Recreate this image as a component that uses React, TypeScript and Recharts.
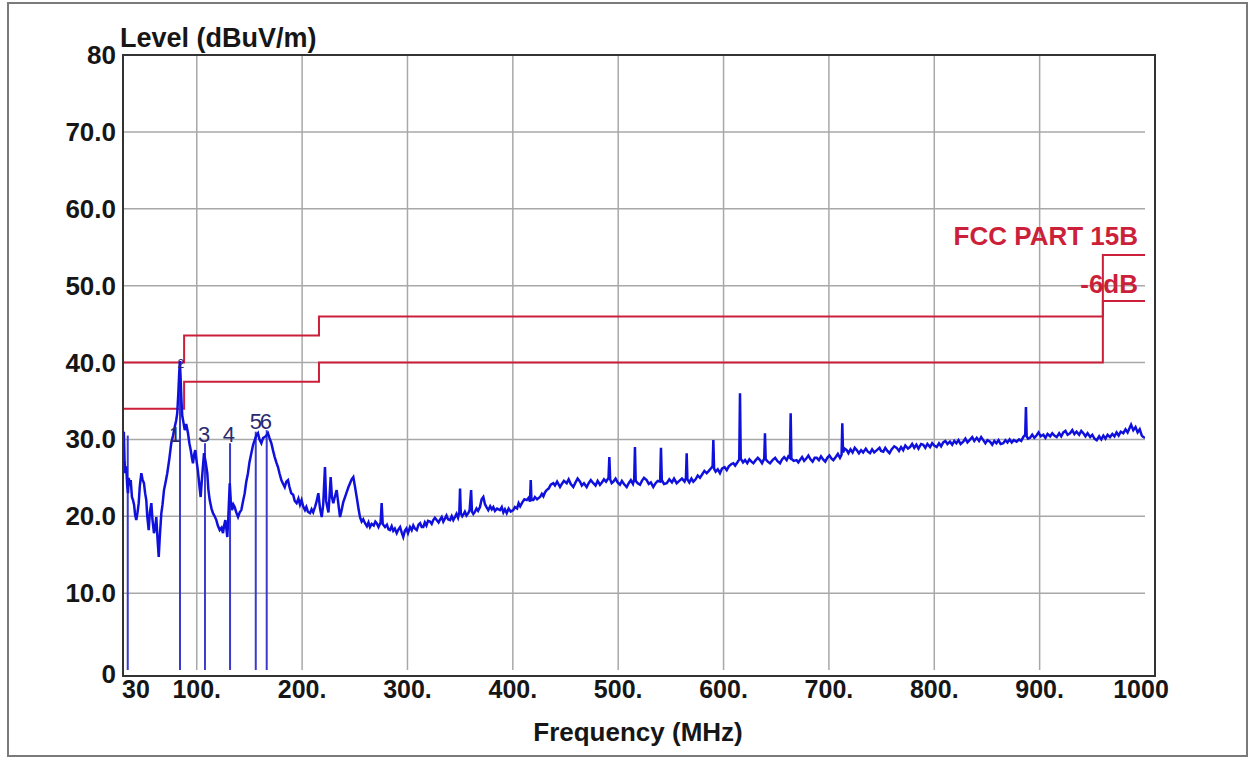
import React from "react";
import {
  ComposedChart, Line, XAxis, YAxis, CartesianGrid, ReferenceLine, Scatter,
} from "recharts";

// axis ticks
const freqTicks = [30, 100, 200, 300, 400, 500, 600, 700, 800, 900, 1000];
const levelTicks = [0, 10, 20, 30, 40, 50, 60, 70, 80];

// FCC Part 15B class B limit and the -6 dB margin line (stepped)
const fccLimit = [
  { f: 30, v: 40 }, { f: 88, v: 43.5 }, { f: 216, v: 46 }, { f: 960, v: 54 }, { f: 1000, v: 54 },
];
const fccMargin = [
  { f: 30, v: 34 }, { f: 88, v: 37.5 }, { f: 216, v: 40 }, { f: 960, v: 48 }, { f: 1000, v: 48 },
];

// marker drop lines (freq MHz, level dBuV/m)
const markers = [
  { f: 34.5, v: 30.5 }, { f: 84.1, v: 40 }, { f: 107.8, v: 29.5 },
  { f: 131.6, v: 29.5 }, { f: 156, v: 31 }, { f: 166.4, v: 31.2 },
];
const markerLabels = [
  { f: 79.4, v: 30.7, text: "1", size: 22 },
  { f: 85, v: 39.9, text: "2", size: 12 },
  { f: 106.9, v: 30.7, text: "3", size: 22 },
  { f: 130.6, v: 30.7, text: "4", size: 22 },
  { f: 156.2, v: 32.4, text: "5", size: 22 },
  { f: 165.7, v: 32.4, text: "6", size: 22 },
];

const traceLow: [number, number][] = [
  [30, 30.5], [30.8, 31], [31.5, 27], [32.2, 25.6], [33, 26.5], [34, 24], [34.7, 23], [35.5, 25],
  [36.5, 24], [37.3, 24.7], [38.5, 22.5], [39.5, 22.1], [40.5, 21.5], [41.5, 20.2], [42.6, 19.5],
  [43.8, 20.5], [44.9, 21.7], [46, 24], [47.4, 25.6], [48.5, 24.8], [49.9, 24.3], [51, 23],
  [52.1, 22.1], [53, 20], [54.4, 18.2], [55.5, 20.5], [56.9, 21.7], [58, 19.5], [59.4, 17.8],
  [60.5, 18.5], [61.6, 19.9], [62.8, 17], [63.9, 14.7], [65, 17.5], [66.4, 20.4], [67.5, 21.5],
  [68.9, 23.4], [70.5, 24.5], [72, 25.6], [74, 27.5], [75.8, 29.5], [77.5, 30.5], [79.1, 31.6],
  [80.5, 32.5], [81.5, 33.4], [82.5, 36], [83.3, 38.5], [84, 40.2], [84.8, 37.5], [85.5, 35],
  [86.3, 33], [87, 32.5], [88.6, 31.2], [90, 32], [91.7, 30.8], [93, 29.5], [94.3, 28.6],
  [95.5, 27.5], [96.4, 26.9], [97.5, 28], [98.6, 28.6], [100, 27], [101, 26], [102.5, 24],
  [103.7, 22.5], [105, 25], [106.9, 28.2], [108.5, 27], [110, 25.6], [111, 23.5], [112.3, 22.1],
  [114, 21], [115.4, 20.4], [117, 20], [118.6, 19.5], [120, 18.8], [121.8, 18.2], [123.5, 18.5],
  [124.9, 17.8], [126, 18.8], [127.1, 19.5], [128, 18.5], [129, 17.3], [130, 20], [131.3, 24.3],
  [132.3, 22], [133.5, 20.8], [134.8, 21.5], [136, 21.2], [137.5, 20.5], [139.2, 19.9],
  [140.8, 20.5], [142.3, 20.8], [144, 22], [145.5, 23], [147, 24.5], [148.6, 25.6], [150, 27],
  [151.8, 28.2], [153.5, 29.3], [155, 29.9], [156.5, 30.5], [158.1, 30.8], [159.5, 30],
  [161.3, 29.5], [163, 30.2], [164.5, 30.3], [166, 30.5], [167.6, 30.8], [169, 30.2],
  [170.8, 29.5], [172.5, 28.5], [174, 27.7], [175.5, 27], [177.1, 26.4], [178.7, 25.5],
  [180.3, 24.7], [182, 24.2], [183.5, 23.8], [185, 24.5], [186.6, 24.7], [188, 23.8],
  [189.7, 23], [191.5, 22.8], [193, 22], [194.8, 21.7], [196.5, 22.3], [198, 21.5], [199.5, 22.1],
  [201, 21.3], [202.7, 20.8], [204, 21.2], [205.5, 20.6], [207.5, 20.4], [209, 20.9],
  [210.5, 20.5], [212.2, 21.2], [213.5, 21.8], [215.4, 23],
];

const traceMidLow: [number, number][] = [
  [217, 21], [218.6, 19.9], [220, 21.5], [221.7, 26.4], [222.8, 22], [223.9, 21.2], [225, 20.5],
  [226, 22.5], [227.1, 25.1], [228.3, 22.5], [229.6, 21.7], [231, 22.5], [232.8, 23.4],
  [234.5, 21.5], [236, 19.9], [237.5, 20.8], [239, 21.8], [240.7, 22.5], [242.5, 23.2], [244, 23.8],
  [245.5, 24.3], [247, 24.8], [248.6, 25.1], [250, 24], [251.8, 22.5], [253.5, 21], [254.9, 19.9],
  [256.5, 19.3], [258, 19.6], [259.7, 19.1], [261.5, 18.7], [263, 19.2], [264.4, 18.6], [266, 19],
  [268, 18.8], [269.5, 19.3], [270.8, 19.1], [272.5, 18.6], [274.5, 19.2], [275.5, 21.7],
  [276.5, 19], [278.7, 18.6], [280.5, 18.9], [282, 18.3], [283.4, 18.2], [285, 18.7], [286.5, 18.1],
  [288, 18.4], [289.8, 17.8], [291.5, 18.3], [293, 18.6], [294.5, 17.9], [296, 17.3], [297.5, 18.1],
  [299, 18.4], [300.5, 17.8], [302.4, 18.6], [304, 18.2], [305.5, 18.8], [307, 18.4], [308.8, 18.2],
  [310.5, 18.9], [312, 19.1], [313.5, 18.6], [315, 18.6], [316.5, 19.2], [318, 18.8], [319.5, 19.4],
  [321.4, 19.3], [323, 19], [324.5, 19.5], [326, 19.8], [327.7, 19.5], [329.5, 19.2], [331, 19.6],
  [332.5, 19.9], [334, 19.3], [335.5, 19.7], [337, 20.1], [338.5, 19.6], [340.4, 19.5], [342, 20],
  [343.5, 19.5], [345.1, 19.9], [346.5, 20.3], [348, 19.8], [349.2, 20.5], [349.9, 23.6],
  [350.6, 20.4], [352, 20], [353, 20.2], [354.5, 20.6], [356, 20.1], [357.7, 20.4], [359, 20.8],
  [360.4, 23.4], [361.2, 20.6], [362.5, 20.3], [364.1, 20.6], [365.5, 21], [367, 20.7],
  [368.8, 21.2], [370.4, 22.2], [372, 22.5], [373.5, 21.6], [375, 21.2], [376.7, 20.8],
  [378.5, 21.3], [380, 20.9], [381.5, 21.2], [383, 20.7], [385, 21], [387.8, 20.8], [389.5, 21.2],
  [391, 20.5], [392.5, 20.9], [394.2, 20.4], [396, 21], [398, 20.6], [400.4, 20.8], [402, 21.2],
  [404, 21], [405.5, 21.7], [407, 21.3], [409, 21.8], [411, 22.2], [413.2, 22.1], [415, 22.4],
  [416.3, 21.9], [417, 24.7], [417.7, 22.1], [419.4, 22.1],
];

const traceMidHigh: [number, number][] = [
  [421, 22.5], [423, 22.2], [425.8, 22.5], [427.5, 22.9], [429, 22.6], [430.5, 23.1], [432.1, 23.4],
  [434, 23.6], [436, 24.1], [438.4, 24.3], [440, 24], [442, 24.5], [444.8, 23.8], [446.5, 24.2],
  [448.5, 24.6], [451.1, 24.3], [453, 24.8], [455, 24.2], [457.4, 23.8], [459.5, 24.4],
  [461.5, 24.9], [463.8, 24.5], [465.5, 24], [467.5, 24.3], [470.1, 23.8], [472, 24.3],
  [474, 24.7], [476.4, 24.3], [478.5, 24], [480.5, 24.6], [482.7, 24.1], [484.5, 24.4],
  [486.5, 24.8], [488.5, 24.5], [490.8, 25], [491.6, 27.7], [492.4, 24.8], [493.8, 24.3],
  [495.4, 24.5], [497.5, 24.9], [499.5, 24.4], [501.7, 24.1], [503.5, 24.6], [505.5, 24.2],
  [508.1, 23.8], [510, 24.3], [512, 24.7], [514, 24.2], [515.2, 24.8], [515.9, 29], [516.6, 24.6],
  [518.5, 24.3], [520.7, 24.1], [522.5, 24.6], [524.5, 25], [527, 24.7], [529, 24.2], [531, 24.4],
  [533.3, 23.8], [535.5, 24.3], [537.5, 24.6], [539.8, 24.5], [540.6, 28.9], [541.4, 24.7],
  [543.5, 24.2], [546.1, 24.3], [548.5, 24.8], [551, 24.4], [553, 24.9], [555.5, 24.3],
  [558, 24.6], [560.5, 24.9], [563, 24.5], [564.3, 25], [565, 28.2], [565.7, 24.8], [567.5, 24.4],
  [569.5, 24.9], [571.3, 24.5], [573.5, 24.8], [575.5, 25.3], [577.6, 25], [579.5, 25.4],
  [581.8, 25.9], [584, 25.6], [586, 25.9], [588.5, 26.3], [589.6, 26.5], [590.3, 29.9], [591, 26.2],
  [592.5, 25.8], [594.5, 26.1], [596.6, 25.6], [598.5, 26.2], [601, 26.4], [603, 26], [605, 26.5],
  [607.5, 26.8], [609.3, 26.9], [611, 26.6], [613, 27], [614.9, 27.4], [615.6, 36], [616.3, 27.5],
  [618.5, 27], [620.4, 27.3], [622.5, 26.9], [624.5, 27.4], [626.5, 27.1], [628.3, 26.9],
  [630.5, 27.3], [632.5, 27.6], [634.6, 27.3], [636.5, 26.9], [638.6, 27.5], [639.3, 30.8],
  [640, 27.4], [642, 27.1], [644.1, 26.9], [646.5, 27.3], [649, 27.6], [651, 27.2], [653.6, 26.9],
  [655.5, 27.4], [657.5, 27.7], [659.9, 27.3], [661.5, 27.8], [663, 27.6], [663.7, 33.4],
  [664.4, 27.5], [666.5, 27.2], [669.3, 27.3], [671, 27], [672.4, 27.3], [674.5, 27.7],
  [676.5, 27.2], [678.5, 27.5],
];

const traceHigh: [number, number][] = [
  [680.5, 27.9], [682.5, 27.4], [684.5, 27.1], [686.5, 27.6], [688.4, 27.6], [690.5, 27.3],
  [692.5, 27.8], [694.5, 27.4], [696.5, 27.1], [698.5, 27.6], [700.5, 27.9], [702.5, 27.5],
  [704.2, 27.3], [706.5, 27.7], [708.5, 28.1], [710.5, 27.6], [712, 28], [712.7, 32.1],
  [713.4, 28.3], [715, 28.8], [716.9, 28.6], [718.5, 28.2], [720.5, 28.7], [722.5, 28.3],
  [724.5, 28.9], [726.4, 28.6], [728.5, 28.2], [730.5, 28.6], [732.5, 28.3], [735, 28.8],
  [737, 28.4], [739, 28.2], [741, 28.7], [743, 28.3], [745.5, 28.6], [748, 28.9], [749.5, 28.5],
  [751.6, 28.4], [753.5, 28.9], [755.5, 28.5], [757.5, 28.2], [759.5, 28.7], [762, 29.1],
  [764.3, 28.9], [766.5, 28.5], [768.5, 29], [770.5, 28.6], [772.5, 29.2], [775, 28.8], [777, 29],
  [779, 29.4], [781, 28.9], [783, 29.3], [785, 28.8], [787.5, 29.4], [789.6, 29.3], [791.5, 28.9],
  [793.5, 29.4], [796, 29], [798, 29.5], [800, 29.2], [802.3, 29], [804.5, 29.5], [806.5, 29.1],
  [808.5, 29.6], [810.5, 29.8], [812.5, 29.4], [814.9, 29.7], [817, 29.3], [819, 29.8],
  [821, 29.5], [823, 29.9], [825, 29.4], [827.5, 29.7], [829.5, 30.1], [831.5, 29.6],
  [833.5, 29.9], [836, 30.3], [838, 29.8], [840.3, 30.2], [842.5, 29.8], [844.5, 30.3],
  [846.5, 29.9], [848.5, 29.5], [850.5, 29.9], [852.9, 29.7], [855, 29.3], [857, 29.8],
  [859, 29.5], [861, 29.9], [863, 29.4], [865.5, 29.5], [867.5, 29.9], [869.5, 29.6], [871.5, 30],
  [873.5, 29.6], [875.5, 29.9], [878.2, 29.7], [880.5, 30], [882.5, 29.8], [884.5, 30.3],
  [886.3, 30.6], [887, 34.2], [887.7, 30.4], [889, 30.1], [890.9, 30.2], [893, 30.6], [895, 30.2],
  [897, 30.5], [899, 30.9], [901, 30.4], [903.5, 30.6], [905.5, 30.2], [907.5, 30.7], [910, 30.4],
  [912, 30.8], [914, 30.5], [916.2, 30.3], [918.5, 30.8], [920.5, 30.4], [922.5, 30.9],
  [924.5, 31.1], [926.5, 30.6], [928.8, 30.8], [931, 31.2], [933, 30.7], [935, 31], [937.5, 30.6],
  [939.5, 31.1], [941.5, 30.8], [943.5, 30.4], [945.5, 30.8], [948, 30.3], [950, 30.6],
  [952, 30.1], [954.2, 29.9], [956.5, 30.4], [958.5, 30], [960.5, 30.5], [962.5, 30.1],
  [964.5, 30.6], [966.8, 30.3], [969, 30.7], [971, 30.4], [973, 30.9], [975, 30.5], [977, 31],
  [979.4, 30.8], [981.5, 31.3], [983.5, 30.9], [985.5, 31.5], [986.8, 31.9], [988.9, 31.2],
  [991, 31.6], [993, 30.9], [995, 31.3], [997, 30.5], [998.4, 30.3], [1000, 30.2],
];

const trace = [...traceLow, ...traceMidLow, ...traceMidHigh, ...traceHigh].map(([f, v]) => ({ f, v }));

const FONT = "'Liberation Sans', Arial, Helvetica, sans-serif";
const RED = "#cc1f3a";
const BLUE = "#1010dd";

const XTick = (props: any) => {
  const { x, y, payload } = props;
  const v = payload.value;
  const label = v === 30 || v === 1000 ? String(v) : `${v}.`;
  const anchor = v === 30 ? "start" : "middle";
  const dx = v === 30 ? -1 : v === 1000 ? -4 : 0;
  return (
    <text x={x + dx} y={y + 28} textAnchor={anchor} fontFamily={FONT} fontSize={25}
      fontWeight="bold" fill="#161616">
      {label}
    </text>
  );
};

const YTick = (props: any) => {
  const { x, y, payload } = props;
  const v = payload.value;
  const label = v === 0 || v === 80 ? String(v) : v.toFixed(1);
  const dy = v === 0 ? 13 : 9;
  return (
    <text x={x - 7} y={y + dy} textAnchor="end" fontFamily={FONT} fontSize={26}
      fontWeight="bold" fill="#161616">
      {label}
    </text>
  );
};

const MarkerLabel = (props: any) => {
  const { cx, cy, payload } = props;
  return (
    <text x={cx} y={cy + payload.size * 0.36} textAnchor="middle" fontFamily={FONT}
      fontSize={payload.size} fill="#2a2a70">
      {payload.text}
    </text>
  );
};

export default function App() {
  return (
    <div style={{ position: "absolute", left: 0, top: 0, width: 1249, height: 758, background: "#fff" }}>
      {/* outer picture border */}
      <div style={{
        position: "absolute", left: 7, top: 2, width: 1241, height: 755,
        border: "2px solid #7a7a7a", boxSizing: "border-box",
      }} />
      <ComposedChart width={1249} height={758}
        margin={{ top: 55, left: 0, right: 104, bottom: 0 }}>
        <CartesianGrid stroke="#a8a8a8" strokeWidth={1.5}
          verticalValues={[100, 200, 300, 400, 500, 600, 700, 800, 900]}
          horizontalValues={[10, 20, 30, 40, 50, 60, 70]} />
        <XAxis type="number" dataKey="f" domain={[30, 1000]} ticks={freqTicks} interval={0}
          height={88} tickSize={0} tickMargin={0} axisLine={false} tickLine={false}
          tick={<XTick />} allowDataOverflow />
        <YAxis type="number" dataKey="v" domain={[0, 80]} ticks={levelTicks} interval={0}
          width={123} tickSize={0} tickMargin={0} axisLine={false} tickLine={false}
          tick={<YTick />} allowDataOverflow />
        <Line data={fccLimit} dataKey="v" type="stepAfter" stroke={RED} strokeWidth={2}
          dot={false} isAnimationActive={false} />
        <Line data={fccMargin} dataKey="v" type="stepAfter" stroke={RED} strokeWidth={2}
          dot={false} isAnimationActive={false} />
        {markers.map((m, i) => (
          <ReferenceLine key={i} segment={[{ x: m.f, y: 0 }, { x: m.f, y: m.v }]}
            stroke="#3a3ad0" strokeWidth={2} />
        ))}
        <Line data={trace} dataKey="v" type="linear" stroke={BLUE} strokeWidth={2.5}
          dot={false} isAnimationActive={false} />
        <Scatter data={markerLabels} dataKey="v" shape={<MarkerLabel />} isAnimationActive={false} />
      </ComposedChart>
      {/* plot frame */}
      <div style={{
        position: "absolute", left: 122, top: 54, width: 1034, height: 623,
        border: "2px solid #333", boxSizing: "border-box", pointerEvents: "none",
      }} />
      <svg width={1249} height={758} style={{ position: "absolute", left: 0, top: 0, pointerEvents: "none" }}>
        <text x={120} y={47} fontFamily={FONT} fontSize={27} fontWeight="bold" fill="#161616">
          Level (dBuV/m)
        </text>
        <text x={638} y={741} textAnchor="middle" fontFamily={FONT} fontSize={26} fontWeight="bold" fill="#161616">
          Frequency (MHz)
        </text>
        <text x={1138} y={245} textAnchor="end" fontFamily={FONT} fontSize={26} fontWeight="bold" fill={RED}>
          FCC PART 15B
        </text>
        <text x={1138} y={293} textAnchor="end" fontFamily={FONT} fontSize={26} fontWeight="bold" fill={RED}>
          -6dB
        </text>
      </svg>
    </div>
  );
}
